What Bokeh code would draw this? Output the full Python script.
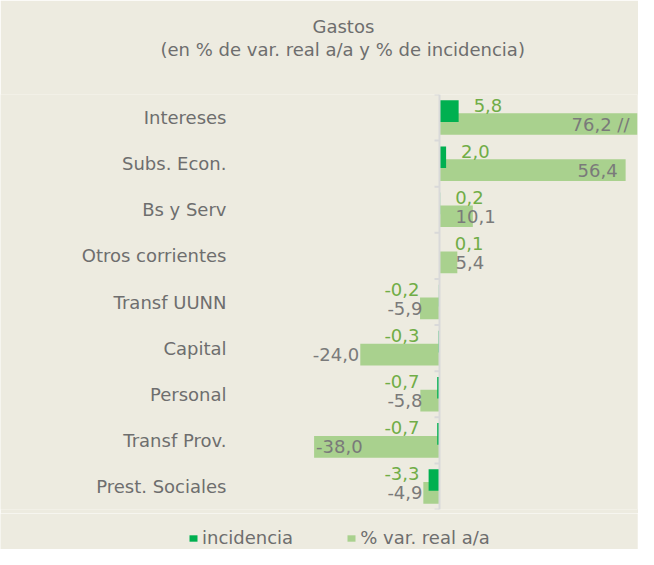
import math
from bokeh.plotting import figure
from bokeh.layouts import column
from bokeh.models import (Range1d, Span, Title, Legend, LegendItem,
                          ColumnDataSource)
from bokeh.core.properties import value, field
from bokeh.embed import file_html
from bokeh.resources import INLINE

# ---- data ----
categories = ["Intereses", "Subs. Econ.", "Bs y Serv", "Otros corrientes",
              "Transf UUNN", "Capital", "Personal", "Transf Prov.", "Prest. Sociales"]
incidencia = [5.8, 2.0, 0.2, 0.1, -0.2, -0.3, -0.7, -0.7, -3.3]
var_real = [76.2, 56.4, 10.1, 5.4, -5.9, -24.0, -5.8, -38.0, -4.9]
series_names = ["incidencia", "% var. real a/a"]
x_min, x_max = -40, 60
title_1 = "Gastos"
title_2 = "(en % de var. real a/a y % de incidencia)"

# ---- style / layout ----
BG = "#EDEBE0"
DARK = "#00B050"
LIGHT = "#A9D18E"
GREEN_TXT = "#70AD47"
GRAY_TXT = "#7A7A7A"
CAT_TXT = "#6E6E6E"
AXIS = "#D9D9D9"
FONT = "DejaVu Sans"
FS = "18px"
OFF = 0.14
BAR_H = 0.47
DATA_LEFT_PX = 307      # where x_min sits inside the frame
DATA_W_PX = 330         # pixels from x_min to x_max
W, H_MAIN, H_LEG = 638, 513, 36

n = len(categories)
ypos = [n - 1 - i + 0.5 for i in range(n)]      # first category on top
y_inc = [y + OFF for y in ypos]
y_var = [y - OFF for y in ypos]
x_start = x_min - DATA_LEFT_PX * (x_max - x_min) / DATA_W_PX


def fmt(v):
    return f"{v:.1f}".replace(".", ",")


# label placement for % var. real bars
vt, vx, va, vo = [], [], [], []
for v in var_real:
    t = fmt(v)
    if v > x_max:
        t += " //"
    if v >= 30:
        x, a, o = min(v, x_max), "right", -8
    elif v >= 0:
        x, a, o = 0, "left", 16
    elif v > -10:
        x, a, o = 0, "right", -17
    elif v > -30:
        x, a, o = v, "right", -1
    else:
        x, a, o = v, "left", 2
    vt.append(t); vx.append(x); va.append(a); vo.append(o)

# label placement for incidence bars
it, ix, ia, io = [], [], [], []
for v in incidencia:
    it.append(fmt(v))
    if v >= 0:
        ix.append(v); ia.append("left"); io.append(15)
    else:
        ix.append(0); ia.append("right"); io.append(-20)

src = ColumnDataSource(dict(cat=categories, inc=incidencia, var=var_real,
                            y=ypos, y_inc=y_inc, y_var=y_var,
                            xl=[x_min] * n,
                            vt=vt, vx=vx, va=va, vo=vo,
                            it=it, ix=ix, ia=ia, io=io))

p = figure(width=W, height=H_MAIN,
           y_range=Range1d(0, n), x_range=Range1d(x_start, x_max),
           output_backend="svg", toolbar_location=None,
           min_border_left=0, min_border_right=1,
           min_border_top=94, min_border_bottom=4)
p.background_fill_color = BG
p.border_fill_color = BG
p.outline_line_color = None
p.grid.visible = False
p.axis.visible = False

# category labels (right-aligned, 81 px left of the value area)
p.text(x="xl", y="y", text="cat", x_offset=-81, text_align="right",
       text_baseline="middle", text_font=value(FONT), text_font_size=FS,
       text_color=CAT_TXT, source=src)

# zero axis line and boundary ticks
p.add_layout(Span(location=0, dimension="height", line_color=AXIS, line_width=2))
p.ray(x=[0] * (n + 1), y=list(range(n + 1)), length=5, length_units="screen",
      angle=math.pi, line_color=AXIS, line_width=2)

r_var = p.hbar(y="y_var", left=0, right="var", height=BAR_H,
               fill_color=LIGHT, line_color=None, source=src)
r_inc = p.hbar(y="y_inc", left=0, right="inc", height=BAR_H,
               fill_color=DARK, line_color=None, source=src)

p.text(x="vx", y="y_var", text="vt",
       text_align=field("va"), x_offset="vo", text_baseline="middle",
       text_font=value(FONT), text_font_size=FS, text_color=GRAY_TXT, source=src)
p.text(x="ix", y="y_inc", text="it",
       text_align=field("ia"), x_offset="io", y_offset=-6, text_baseline="middle",
       text_font=value(FONT), text_font_size=FS, text_color=GREEN_TXT, source=src)

# titles (added from the plot outwards); a blank title acts as spacer
p.add_layout(Title(text=" ", standoff=12, text_font=FONT, text_font_size=FS), "above")
p.add_layout(Title(text=title_2, align="left", offset=160, standoff=0,
                   text_line_height=0.8,
                   text_font=FONT, text_font_size=FS, text_font_style="normal",
                   text_color=CAT_TXT), "above")
p.add_layout(Title(text=title_1, align="left", offset=312, standoff=0,
                   text_font=FONT, text_font_size=FS, text_font_style="normal",
                   text_color=CAT_TXT), "above")

# ---- legend strip below the chart ----
pl = figure(width=W, height=H_LEG, x_range=Range1d(0, 1), y_range=Range1d(0, 1),
            output_backend="svg", toolbar_location=None,
            min_border_left=0, min_border_right=1, min_border_top=0,
            min_border_bottom=0)
pl.background_fill_color = BG
pl.border_fill_color = BG
pl.outline_line_color = None
pl.grid.visible = False
pl.axis.visible = False
# zero-width bars: only their legend swatches are seen
lg_inc = pl.hbar(y=[0.5], left=[0], right=[0], height=0.5, fill_color=DARK, line_color=None)
lg_var = pl.hbar(y=[0.5], left=[0], right=[0], height=0.5, fill_color=LIGHT, line_color=None)

legend = Legend(items=[LegendItem(label=series_names[0], renderers=[lg_inc]),
                       LegendItem(label=series_names[1], renderers=[lg_var])],
                orientation="horizontal", location=(188, 1),
                glyph_width=10, glyph_height=8, label_standoff=4, spacing=53,
                padding=0, margin=0, background_fill_alpha=0,
                border_line_color=None, label_text_font=FONT,
                label_text_font_size=FS, label_text_color=CAT_TXT)
pl.add_layout(legend, "center")

layout = column(p, pl, spacing=0)
open("out.html", "w").write(file_html(layout, INLINE))
